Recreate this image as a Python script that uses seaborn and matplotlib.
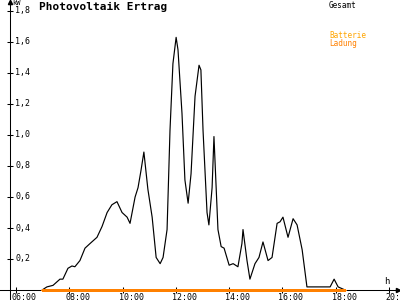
import matplotlib
matplotlib.use("Agg")
import matplotlib.pyplot as plt
import matplotlib.transforms as mtransforms
import pandas as pd
import seaborn as sns

# ---- data ----
hours = [6.98, 7.16, 7.39, 7.65, 7.76, 7.95, 8.10, 8.21, 8.40, 8.59, 8.78, 9.04,
         9.23, 9.42, 9.60, 9.79, 9.98, 10.17, 10.28, 10.47, 10.58, 10.69, 10.80,
         10.95, 11.11, 11.26, 11.41, 11.52, 11.67, 11.78, 11.89, 12.01, 12.08,
         12.23, 12.34, 12.46, 12.57, 12.72, 12.87, 12.94, 13.02, 13.17, 13.24,
         13.36, 13.43, 13.58, 13.70, 13.81, 14.00, 14.15, 14.33, 14.48, 14.52,
         14.67, 14.78, 14.97, 15.12, 15.27, 15.46, 15.61, 15.80, 15.91, 16.02,
         16.21, 16.40, 16.55, 16.74, 16.92, 17.79, 17.94, 18.09, 18.35]
gesamt_kw = [0.00, 0.02, 0.03, 0.07, 0.07, 0.14, 0.155, 0.15, 0.19, 0.27, 0.30, 0.34,
             0.41, 0.50, 0.55, 0.57, 0.50, 0.47, 0.43, 0.60, 0.66, 0.77, 0.89,
             0.65, 0.47, 0.21, 0.17, 0.21, 0.39, 1.03, 1.46, 1.63, 1.55,
             1.14, 0.71, 0.56, 0.75, 1.25, 1.45, 1.42, 1.03, 0.50, 0.42,
             0.66, 0.99, 0.39, 0.28, 0.27, 0.16, 0.17, 0.15, 0.30, 0.39,
             0.19, 0.07, 0.17, 0.21, 0.31, 0.19, 0.21, 0.43, 0.44, 0.47,
             0.34, 0.46, 0.42, 0.26, 0.02, 0.02, 0.07, 0.02, 0.00]
ladung_hours = [6.98, 18.35]
ladung_kw = [0.0, 0.0]

x_ticks = [6, 8, 10, 12, 14, 16, 18, 20]
x_tick_labels = ["06:00", "08:00", "10:00", "12:00", "14:00", "16:00", "18:00", "20:00"]
y_ticks = [0.2, 0.4, 0.6, 0.8, 1.0, 1.2, 1.4, 1.6, 1.8]
y_tick_labels = ["0,2", "0,4", "0,6", "0,8", "1,0", "1,2", "1,4", "1,6", "1,8"]

title = "Photovoltaik Ertrag"
legend_labels = ["Gesamt", "Batterie", "Ladung"]

# ---- style ----
sns.set_style("white")
plt.rcParams['font.family'] = ['DejaVu Sans Mono', 'DejaVu Sans']

W, H = 400, 300
fig = plt.figure(figsize=(4, 3), dpi=100)
fig.patch.set_facecolor("white")
ax = fig.add_axes([0, 0, 1, 1])
ax.set_facecolor("white")

# pixel geometry of the reference
x0_px, hour0 = 16, 6
px_per_hour = 373 / 14
y0_px = 290
px_per_kw = 279 / 1.8
yaxis_px = 10
ax.set_xlim(hour0 - x0_px / px_per_hour, hour0 + (W - x0_px) / px_per_hour)
ax.set_ylim(-(H - y0_px) / px_per_kw, y0_px / px_per_kw)
yaxis_hour = hour0 + (yaxis_px - x0_px) / px_per_hour

# ---- lines ----
df = pd.DataFrame({"h": hours, "kW": gesamt_kw})
sns.lineplot(data=df, x="h", y="kW", color="black", linewidth=0.85, ax=ax,
             antialiased=True, zorder=3)
sns.lineplot(x=ladung_hours, y=ladung_kw, color="#FF8000", linewidth=0.9, ax=ax,
             antialiased=False, zorder=4)
ax.set_xlabel("")
ax.set_ylabel("")

# ---- axes ----
for s in ["top", "right"]:
    ax.spines[s].set_visible(False)
ax.spines["left"].set_position(("data", yaxis_hour))
ax.spines["bottom"].set_position(("data", 0))
for s in ["left", "bottom"]:
    ax.spines[s].set_color("black")
    ax.spines[s].set_linewidth(0.75)
    ax.spines[s].set_zorder(2)

ax.set_xticks(x_ticks)
ax.set_yticks(y_ticks)
ax.tick_params(axis="both", which="both", bottom=True, left=True,
               direction="inout", length=5, width=0.75, color="black",
               labelbottom=False, labelleft=False)

# arrows
ax.plot(0.995, 0, marker=">", color="black", markersize=3,
        transform=ax.get_yaxis_transform(), clip_on=False, zorder=5)
ax.plot(yaxis_hour, 0.995, marker="^", color="black", markersize=3,
        transform=ax.get_xaxis_transform(), clip_on=False, zorder=5)

small = dict(fontsize=6, color="black")
xoff = mtransforms.offset_copy(ax.transData, fig=fig, x=-4 * 0.72, y=-3 * 0.72, units="points")
for t, lab in zip(x_ticks, x_tick_labels):
    ax.text(t, 0, lab, transform=xoff, ha="left", va="top", clip_on=False, **small)
yoff = mtransforms.offset_copy(ax.transData, fig=fig, x=5 * 0.72, y=0, units="points")
for v, lab in zip(y_ticks, y_tick_labels):
    ax.text(yaxis_hour, v, lab, transform=yoff, ha="left", va="center", **small)

# axis unit labels
fig.text(12 / W, 1 - 0 / H, "kW", ha="left", va="top", fontsize=5, color="black")
fig.text(387 / W, 1 - 281 / H, "h", ha="center", va="center", fontsize=6.5, color="black")

# title
fig.text(39 / W, 1 - 2 / H, title, ha="left", va="top", fontsize=8,
         fontweight="bold", color="black")

# legend texts
fig.text(329 / W, 1 - 1 / H, legend_labels[0], ha="left", va="top", fontsize=5.5, color="black")
fig.text(329 / W, 1 - 31 / H, legend_labels[1], ha="left", va="top", fontsize=5.5, color="#FFA500")
fig.text(329 / W, 1 - 39.5 / H, legend_labels[2], ha="left", va="top", fontsize=5.5, color="#FF8000")

fig.savefig("out.png", dpi=100, facecolor="white")
